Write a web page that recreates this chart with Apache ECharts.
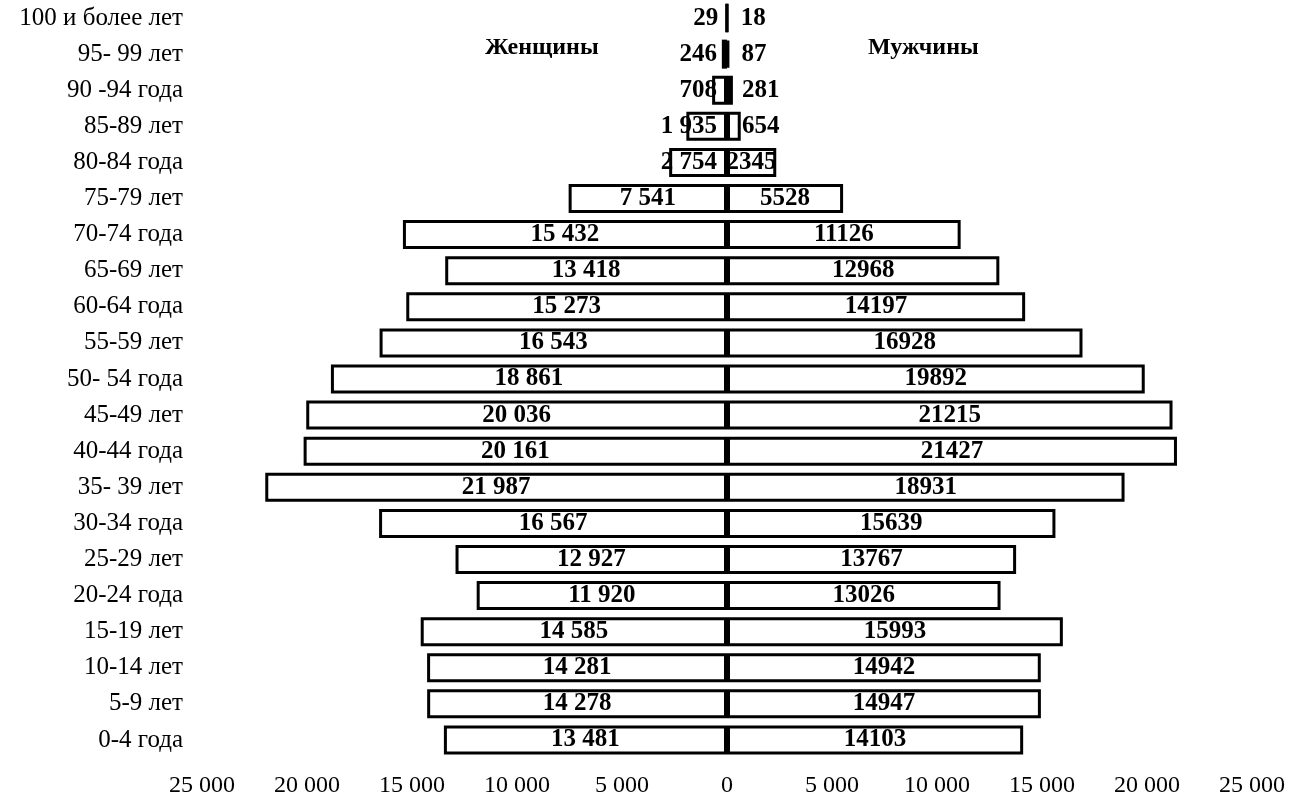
<!DOCTYPE html>
<html>
<head>
<meta charset="utf-8">
<title>Половозрастная пирамида</title>
<script src="https://cdn.jsdelivr.net/npm/echarts@6/dist/echarts.min.js"></script>
<style>
  html, body { margin: 0; padding: 0; background: #fff; }
  #chart { width: 1304px; height: 804px; }
</style>
</head>
<body>
<div id="chart"></div>
<script>
// возрастные группы, снизу вверх
const ageGroups = [
  '0-4 года', '5-9 лет', '10-14 лет', '15-19 лет', '20-24 года', '25-29 лет',
  '30-34 года', '35- 39 лет', '40-44 года', '45-49 лет', '50- 54 года',
  '55-59 лет', '60-64 года', '65-69 лет', '70-74 года', '75-79 лет',
  '80-84 года', '85-89 лет', '90 -94 года', '95- 99 лет', '100 и более лет'
]
const women = [
  13481, 14278, 14281, 14585, 11920, 12927, 16567, 21987, 20161, 20036, 18861,
  16543, 15273, 13418, 15432, 7541, 2754, 1935, 708, 246, 29
]
const men = [
  14103, 14947, 14942, 15993, 13026, 13767, 15639, 18931, 21427, 21215, 19892,
  16928, 14197, 12968, 11126, 5528, 2345, 654, 281, 87, 18
]
const axisTicks = [-25000, -20000, -15000, -10000, -5000, 0, 5000, 10000, 15000, 20000, 25000]

const serif = '"Liberation Serif", "DejaVu Serif", serif'

// пробел между тысячами
function spaced(v) {
  return String(Math.abs(v)).replace(/\B(?=(\d{3})+(?!\d))/g, ' ')
}

const chart = echarts.init(document.getElementById('chart'))

const barStyle = {
  color: '#fff',
  borderColor: '#000',
  borderWidth: 3
}

const labelFont = {
  fontFamily: serif,
  fontSize: 25,
  fontWeight: 'bold',
  color: '#000'
}

const option = {
  backgroundColor: '#fff',
  animation: false,
  title: [
    {
      text: 'Женщины',
      left: 480,
      top: 31,
      textStyle: { fontFamily: serif, fontSize: 24, fontWeight: 'bold', color: '#000' }
    },
    {
      text: 'Мужчины',
      left: 863,
      top: 31,
      textStyle: { fontFamily: serif, fontSize: 24, fontWeight: 'bold', color: '#000' }
    }
  ],
  grid: {
    left: 202,
    right: 52,
    top: 0,
    bottom: 46
  },
  xAxis: {
    type: 'value',
    min: axisTicks[0],
    max: axisTicks[axisTicks.length - 1],
    interval: 5000,
    splitLine: { show: false },
    axisLine: { show: false },
    axisTick: { show: false },
    axisLabel: {
      margin: 16,
      fontFamily: serif,
      fontSize: 24,
      color: '#000',
      formatter: (v) => spaced(v)
    }
  },
  yAxis: {
    type: 'category',
    data: ageGroups,
    axisLine: { show: false },
    axisTick: { show: false },
    axisLabel: {
      margin: 19,
      fontFamily: serif,
      fontSize: 25,
      color: '#000'
    }
  },
  series: [
    {
      name: 'Женщины',
      type: 'bar',
      barWidth: 29,
      barGap: '-100%',
      itemStyle: barStyle,
      label: Object.assign({
        show: true,
        position: 'inside',
        formatter: (p) => spaced(p.value)
      }, labelFont),
      data: women.map((v) => ({
        value: -v,
        label: v < 3000 ? { position: 'insideRight', distance: 10 } : {}
      }))
    },
    {
      name: 'Мужчины',
      type: 'bar',
      barWidth: 29,
      itemStyle: barStyle,
      label: Object.assign({
        show: true,
        position: 'inside',
        formatter: (p) => String(p.value)
      }, labelFont),
      data: men.map((v) => ({
        value: v,
        label: v < 1000 ? { position: 'insideLeft', distance: 15 } : {}
      }))
    }
  ]
}

chart.setOption(option)
</script>
</body>
</html>
